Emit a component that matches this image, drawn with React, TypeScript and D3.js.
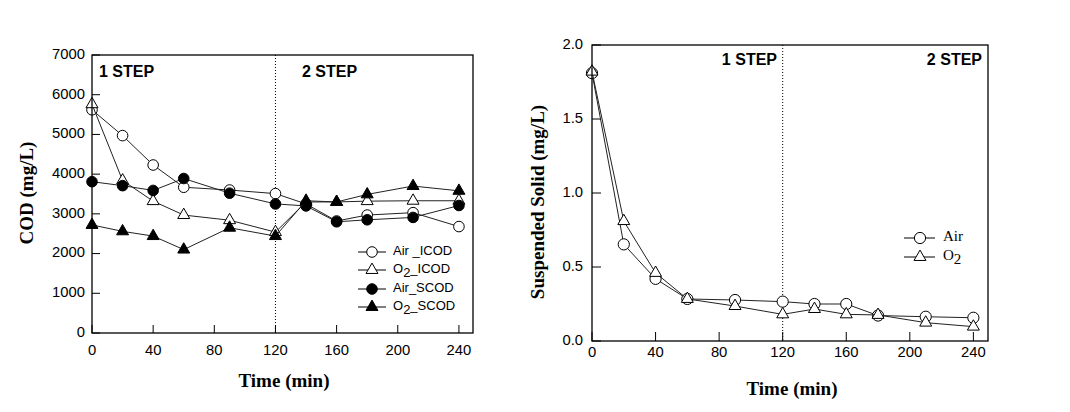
import React from "react";
import * as d3 from "d3";

const codTimes = [0, 20, 40, 60, 90, 120, 140, 160, 180, 210, 240];
const airICOD = [5620, 4970, 4230, 3670, 3600, 3510, 3250, 2820, 2970, 3030, 2680];
const o2ICOD = [5760, 3840, 3320, 2970, 2840, 2540, 3300, 3300, 3320, 3330, 3330];
const airSCOD = [3810, 3710, 3590, 3890, 3520, 3250, 3200, 2800, 2850, 2910, 3210];
const o2SCOD = [2720, 2560, 2440, 2100, 2650, 2440, 3330, 3300, 3490, 3700, 3580];

const ssTimes = [0, 20, 40, 60, 90, 120, 140, 160, 180, 210, 240];
const ssAir = [1.81, 0.653, 0.42, 0.284, 0.277, 0.266, 0.25, 0.25, 0.172, 0.164, 0.157];
const ssO2 = [1.82, 0.81, 0.46, 0.284, 0.236, 0.18, 0.216, 0.18, 0.176, 0.124, 0.097];

const xTicks = [0, 40, 80, 120, 160, 200, 240];
const codTicks = [0, 1000, 2000, 3000, 4000, 5000, 6000, 7000];
const ssTicks = [0, 0.5, 1.0, 1.5, 2.0];

const SANS = "'Liberation Sans', Arial, sans-serif";
const SERIF = "'Liberation Serif', 'Times New Roman', serif";

type Kind = "circle" | "triangle";

function Marker({ x, y, kind, filled, r = 5.3 }: { x: number; y: number; kind: Kind; filled: boolean; r?: number }) {
  const fill = filled ? "#000" : "#fff";
  if (kind === "circle") {
    return <circle cx={x} cy={y} r={r} fill={fill} stroke="#000" strokeWidth={1} />;
  }
  const path = d3.symbol().type(d3.symbolTriangle).size(62)();
  return <path d={path || ""} transform={`translate(${x},${y})`} fill={fill} stroke="#000" strokeWidth={1} />;
}

function Series({ xs, ys, x, y, kind, filled, r }: any) {
  const line = d3.line<number>().x((_, i) => x(xs[i])).y((d) => y(d));
  return (
    <g>
      <path d={line(ys) || ""} fill="none" stroke="#222" strokeWidth={1} />
      {ys.map((v: number, i: number) => (
        <Marker key={i} x={x(xs[i])} y={y(v)} kind={kind} filled={filled} r={r} />
      ))}
    </g>
  );
}

function O2Label({ x, y, rest, fontFamily, fontSize }: any) {
  return (
    <text x={x} y={y} fontFamily={fontFamily} fontSize={fontSize} dominantBaseline="middle">
      O
      <tspan dy={4} fontSize={fontSize}>2</tspan>
      <tspan dy={-4}>{rest}</tspan>
    </text>
  );
}

function CODChart() {
  const L = 92, R = 473, T = 55, B = 333;
  const x = d3.scaleLinear().domain([0, 249.2]).range([L, R]);
  const y = d3.scaleLinear().domain([0, 7000]).range([B, T]);
  const legend = [
    { kind: "circle" as Kind, filled: false, label: "Air _ICOD", o2: false },
    { kind: "triangle" as Kind, filled: false, label: "_ICOD", o2: true },
    { kind: "circle" as Kind, filled: true, label: "Air_SCOD", o2: false },
    { kind: "triangle" as Kind, filled: true, label: "_SCOD", o2: true },
  ];
  const legY = [252, 270, 289, 307];
  return (
    <g>
      <line x1={x(120)} x2={x(120)} y1={T} y2={B} stroke="#000" strokeDasharray="1,2" strokeWidth={1} />
      <Series xs={codTimes} ys={airICOD} x={x} y={y} kind="circle" filled={false} />
      <Series xs={codTimes} ys={o2ICOD} x={x} y={y} kind="triangle" filled={false} />
      <Series xs={codTimes} ys={airSCOD} x={x} y={y} kind="circle" filled={true} />
      <Series xs={codTimes} ys={o2SCOD} x={x} y={y} kind="triangle" filled={true} />
      <rect x={L} y={T} width={R - L} height={B - T} fill="none" stroke="#000" strokeWidth={1.3} />
      {xTicks.map((t) => (
        <g key={t}>
          <line x1={x(t)} x2={x(t)} y1={B} y2={B - 8} stroke="#000" />
          <text x={x(t)} y={355} textAnchor="middle" fontFamily={SANS} fontSize={14.8}>{t}</text>
        </g>
      ))}
      {codTicks.map((t) => (
        <g key={t}>
          <line x1={L} x2={L + 8} y1={y(t)} y2={y(t)} stroke="#000" />
          <text x={85} y={y(t)} textAnchor="end" dominantBaseline="middle" fontFamily={SANS} fontSize={14.8}>{t}</text>
        </g>
      ))}
      <text x={99} y={77} fontFamily={SANS} fontWeight="bold" fontSize={16}>1 STEP</text>
      <text x={302} y={77} fontFamily={SANS} fontWeight="bold" fontSize={16}>2 STEP</text>
      <text x={284} y={387} textAnchor="middle" fontFamily={SERIF} fontWeight="bold" fontSize={19}>Time (min)</text>
      <text transform={`translate(33,193) rotate(-90)`} textAnchor="middle" fontFamily={SERIF} fontWeight="bold" fontSize={19}>COD (mg/L)</text>
      {legend.map((d, i) => (
        <g key={i}>
          <line x1={358} x2={386} y1={legY[i]} y2={legY[i]} stroke="#000" />
          <Marker x={372} y={legY[i]} kind={d.kind} filled={d.filled} />
          {d.o2 ? (
            <O2Label x={393} y={legY[i]} rest={d.label} fontFamily={SANS} fontSize={13} />
          ) : (
            <text x={393} y={legY[i]} dominantBaseline="middle" fontFamily={SANS} fontSize={13}>{d.label}</text>
          )}
        </g>
      ))}
    </g>
  );
}

function SSChart() {
  const L = 592, R = 988, T = 45, B = 341;
  const x = d3.scaleLinear().domain([0, 249.2]).range([L, R]);
  const y = d3.scaleLinear().domain([0, 2]).range([B, T]);
  return (
    <g>
      <line x1={x(120)} x2={x(120)} y1={T} y2={B} stroke="#000" strokeDasharray="1,2" strokeWidth={1} />
      <Series xs={ssTimes} ys={ssAir} x={x} y={y} kind="circle" filled={false} r={5.6} />
      <Series xs={ssTimes} ys={ssO2} x={x} y={y} kind="triangle" filled={false} />
      <rect x={L} y={T} width={R - L} height={B - T} fill="none" stroke="#000" strokeWidth={1.3} />
      {xTicks.map((t) => (
        <g key={t}>
          <line x1={x(t)} x2={x(t)} y1={B} y2={B - 9} stroke="#000" />
          <text x={x(t)} y={357} textAnchor="middle" fontFamily={SANS} fontSize={14.8}>{t}</text>
        </g>
      ))}
      {ssTicks.map((t) => (
        <g key={t}>
          <line x1={L} x2={L + 9} y1={y(t)} y2={y(t)} stroke="#000" />
          <text x={583} y={y(t)} textAnchor="end" dominantBaseline="middle" fontFamily={SANS} fontSize={14.8}>{t.toFixed(1)}</text>
        </g>
      ))}
      <text x={777} y={65} textAnchor="end" fontFamily={SANS} fontWeight="bold" fontSize={16}>1 STEP</text>
      <text x={982} y={65} textAnchor="end" fontFamily={SANS} fontWeight="bold" fontSize={16}>2 STEP</text>
      <text x={792} y={395} textAnchor="middle" fontFamily={SERIF} fontWeight="bold" fontSize={19}>Time (min)</text>
      <text transform={`translate(544,202) rotate(-90)`} textAnchor="middle" fontFamily={SERIF} fontWeight="bold" fontSize={19}>Suspended Solid (mg/L)</text>
      <line x1={904} x2={935} y1={238} y2={238} stroke="#000" />
      <Marker x={920} y={238} kind="circle" filled={false} r={5.6} />
      <text x={943} y={238} dominantBaseline="middle" fontFamily={SERIF} fontSize={15}>Air</text>
      <line x1={904} x2={935} y1={257} y2={257} stroke="#000" />
      <Marker x={920} y={257} kind="triangle" filled={false} />
      <O2Label x={943} y={257} rest="" fontFamily={SERIF} fontSize={15} />
    </g>
  );
}

export default function App() {
  return (
    <svg width={1070} height={412} style={{ position: "absolute", left: 0, top: 0, background: "#fff" }}>
      <rect width={1070} height={412} fill="#fff" />
      <CODChart />
      <SSChart />
    </svg>
  );
}
